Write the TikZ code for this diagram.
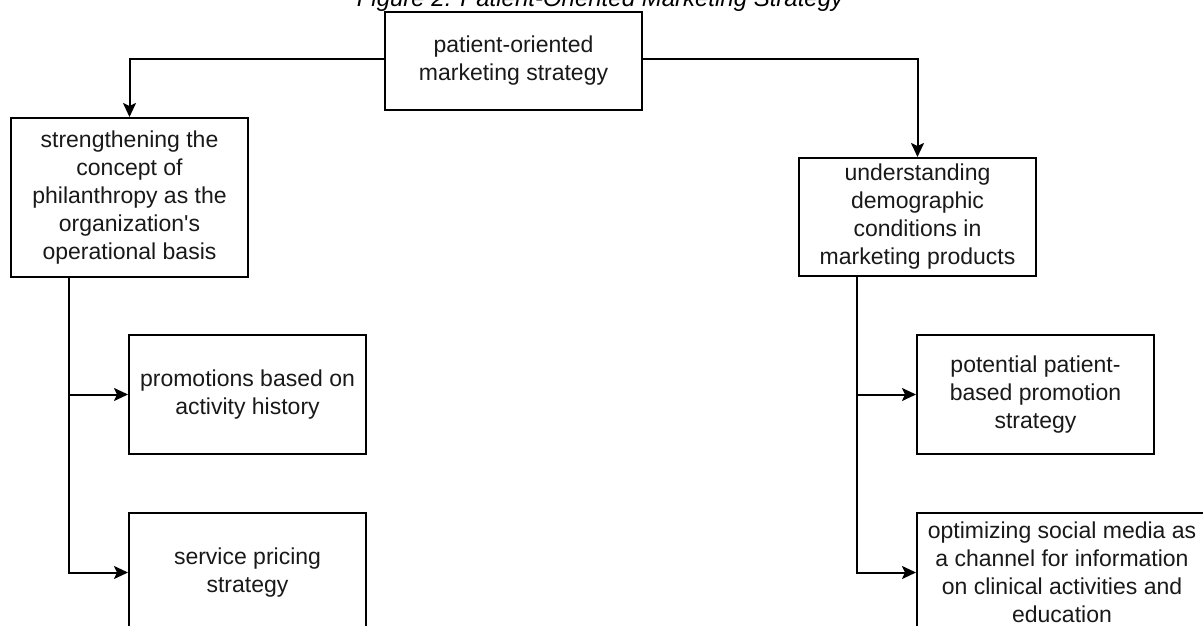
\documentclass[tikz,border=0pt]{standalone}
\usepackage{fontspec}
\setmainfont{Liberation Sans}[Ligatures=TeXOff]
\usetikzlibrary{arrows.meta}
\tikzset{
  box/.style={draw=black, line width=2pt, fill=white, align=center,
    font=\fontsize{23}{28}\selectfont, inner sep=0pt, text=black!90},
  conn/.style={draw=black, line width=2pt},
  arr/.style={conn, -{Stealth[length=14pt,width=13pt,inset=3pt]}},
  titletext/.style={font=\fontsize{24}{29}\selectfont\itshape, inner sep=0pt, anchor=base}
}
\begin{document}
\begin{tikzpicture}[x=1pt,y=-1pt]
\useasboundingbox (0,0) rectangle (1203,626);
\fill[white] (0,0) rectangle (1203,626);
\node[titletext] (title) at (600,7) {Figure 2. Patient-Oriented Marketing Strategy};
\node[box, minimum width=257pt, minimum height=98pt] (top) at (513.5,61) {patient-oriented\\marketing strategy};
\node[box, minimum width=237pt, minimum height=159pt] (L) at (129.5,197.5) {strengthening the\\concept of\\philanthropy as the\\organization's\\operational basis};
\node[box, minimum width=237pt, minimum height=118pt] (R) at (917.5,217) {understanding\\demographic\\conditions in\\marketing products};
\node[box, minimum width=237pt, minimum height=119pt] (L1) at (247.5,394.5) {promotions based on\\activity history};
\node[box, minimum width=237pt, minimum height=119pt] (L2) at (247.5,572.5) {service pricing\\strategy};
\node[box, minimum width=237pt, minimum height=119pt] (R1) at (1035.5,394.5) {potential patient-\\based promotion\\strategy};
\node[box, minimum width=290pt, minimum height=119pt] (R2) at (1062,572.5) {optimizing social media as\\a channel for information\\on clinical activities and\\education};
\draw[arr] ([yshift=2pt]top.west) -| (L.north);
\draw[arr] ([yshift=2pt]top.east) -| (R.north);
\coordinate (Ltrunk) at ([xshift=59pt]L.south west);
\coordinate (Rtrunk) at ([xshift=59pt]R.south west);
\draw[arr] (Ltrunk) |- (L1.west);
\draw[arr] (Ltrunk) |- (L2.west);
\draw[arr] (Rtrunk) |- (R1.west);
\draw[arr] (Rtrunk) |- (R2.west);
\end{tikzpicture}
\end{document}
